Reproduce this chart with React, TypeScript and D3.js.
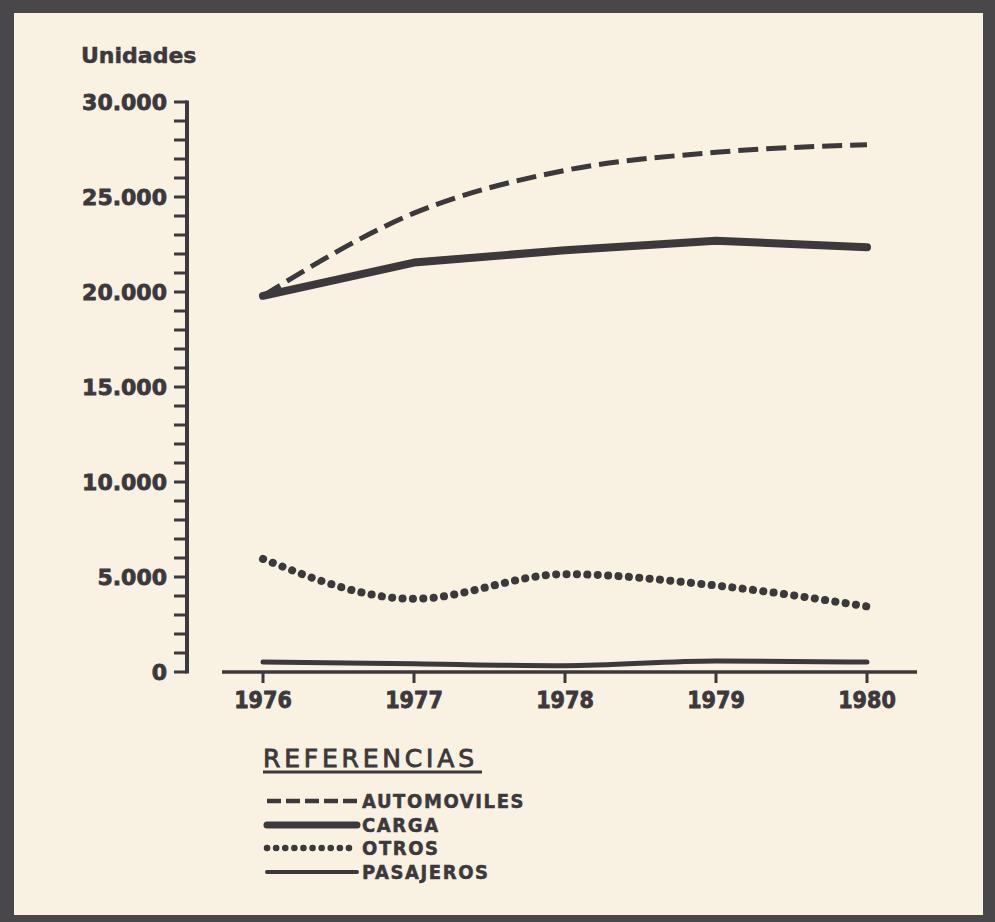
import React from "react";
import * as d3 from "d3";

const years = [1976, 1977, 1978, 1979, 1980];
const automoviles = [19800, 24150, 26400, 27350, 27750];
const carga = [19800, 21550, 22200, 22700, 22350];
const otros = [5950, 3850, 5150, 4550, 3450];
const pasajeros = [520, 430, 330, 580, 520];
const yMajorTicks = [0, 5000, 10000, 15000, 20000, 25000, 30000];
const yTickLabels = ["0", "5.000", "10.000", "15.000", "20.000", "25.000", "30.000"];
const seriesNames = ["AUTOMOVILES", "CARGA", "OTROS", "PASAJEROS"];

const INK = "#3c393c";
const PAPER = "#f9f2e2";

export default function App() {
  const W = 995;
  const H = 922;
  const x = d3.scaleLinear().domain([1976, 1980]).range([263, 867]);
  const y = d3.scaleLinear().domain([0, 30000]).range([672, 102]);
  const minorTicks = d3.range(0, 30001, 1000);

  const mk = (vals: number[], curve: any) =>
    d3
      .line<number>()
      .x((_, i) => x(years[i]))
      .y((v) => y(v))
      .curve(curve)(vals) as string;

  const styles = [
    { sw: 5, dash: "20 8", cap: "butt", lsw: 4.5, ldash: "14 5" },
    { sw: 8, dash: "none", cap: "round", lsw: 7, ldash: "none" },
    { sw: 8, dash: "0.1 10.3", cap: "round", lsw: 6.5, ldash: "0.1 9" },
    { sw: 5, dash: "none", cap: "round", lsw: 4, ldash: "none" },
  ];
  const paths = [
    mk(automoviles, d3.curveMonotoneX),
    mk(carga, d3.curveLinear),
    mk(otros, d3.curveMonotoneX),
    mk(pasajeros, d3.curveMonotoneX),
  ];

  const legendY = [801, 825, 848, 872];

  return (
    <div style={{ position: "absolute", left: 0, top: 0 }}>
      <svg width={W} height={H} style={{ display: "block" }}>
        <rect x={0} y={0} width={W} height={H} fill="#4a474b" />
        <rect x={14} y={13} width={983 - 14} height={915 - 13} fill={PAPER} />

        {/* y title */}
        <text x={81} y={63} fontFamily="DejaVu Sans" fontWeight="bold" fontSize={22} fill={INK} stroke={INK} strokeWidth={0.5}>
          Unidades
        </text>

        {/* y axis */}
        <line x1={187} x2={187} y1={y(30000) - 1.5} y2={y(0) + 1.5} stroke={INK} strokeWidth={4} />
        {minorTicks.map((t) => (
          <line key={t} x1={174} x2={187} y1={y(t)} y2={y(t)} stroke={INK} strokeWidth={3} />
        ))}
        {yMajorTicks.map((t, i) => (
          <text
            key={t}
            x={167}
            y={y(t)}
            dy="0.36em"
            textAnchor="end"
            fontFamily="DejaVu Sans"
            fontWeight="bold"
            fontSize={22}
            fill={INK}
            stroke={INK}
            strokeWidth={0.8}
          >
            {yTickLabels[i]}
          </text>
        ))}

        {/* x axis */}
        <line x1={222} x2={917} y1={y(0)} y2={y(0)} stroke={INK} strokeWidth={3.5} />
        {years.map((yr) => (
          <g key={yr}>
            <line x1={x(yr)} x2={x(yr)} y1={y(0)} y2={y(0) + 11} stroke={INK} strokeWidth={3} />
            <text
              x={x(yr)}
              y={708}
              textAnchor="middle"
              fontFamily="DejaVu Sans Condensed, DejaVu Sans"
              fontWeight="bold"
              fontSize={23}
              fill={INK}
              stroke={INK}
              strokeWidth={0.8}
            >
              {yr}
            </text>
          </g>
        ))}

        {/* series */}
        {paths.map((d, i) => (
          <path
            key={i}
            d={d}
            fill="none"
            stroke={INK}
            strokeWidth={styles[i].sw}
            strokeDasharray={styles[i].dash}
            strokeLinecap={styles[i].cap as any}
            strokeLinejoin="round"
          />
        ))}

        {/* legend */}
        <text
          x={263}
          y={767}
          fontFamily="DejaVu Sans"
          fontSize={25}
          letterSpacing={3.8}
          fill={INK}
          stroke={INK}
          strokeWidth={0.9}
        >
          REFERENCIAS
        </text>
        <line x1={263} x2={482} y1={772} y2={772} stroke={INK} strokeWidth={2.8} />
        {seriesNames.map((name, i) => (
          <g key={name}>
            <line
              x1={267}
              x2={357}
              y1={legendY[i]}
              y2={legendY[i]}
              stroke={INK}
              strokeWidth={styles[i].lsw}
              strokeDasharray={styles[i].ldash}
              strokeLinecap={i === 0 ? "butt" : "round"}
            />
            <text
              x={362}
              y={legendY[i] + 7}
              fontFamily="DejaVu Sans Condensed, DejaVu Sans"
              fontWeight="bold"
              fontSize={20}
              letterSpacing={1.6}
              fill={INK}
              stroke={INK}
              strokeWidth={0.5}
            >
              {name}
            </text>
          </g>
        ))}
      </svg>
    </div>
  );
}
